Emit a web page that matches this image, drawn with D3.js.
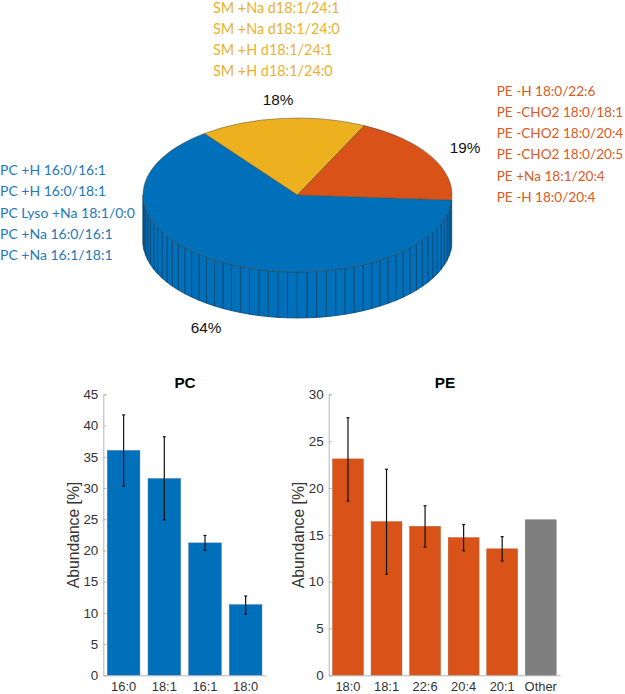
<!DOCTYPE html>
<html lang="en">
<head>
<meta charset="UTF-8" />
<title>Lipid abundance</title>
<script src="https://cdnjs.cloudflare.com/ajax/libs/d3/7.8.5/d3.min.js"></script>
<style>
  html, body { margin: 0; padding: 0; background: #fff; }
  svg { display: block; }
  .tick text, .bar-title, .ylab, .pct { font-family: "Liberation Sans", Arial, sans-serif; }
  .lab { font-family: Lato, "Open Sans", sans-serif; }
</style>
</head>
<body>
<svg id="chart" width="625" height="694"></svg>
<script>
  const pieNames = ['PC', 'SM', 'PE'];
  const pieShares = [63.7, 17.4, 18.9];
  const pieLabels = ['64%', '18%', '19%'];

  const smLabels = ['SM +Na d18:1/24:1', 'SM +Na d18:1/24:0', 'SM +H d18:1/24:1', 'SM +H d18:1/24:0'];
  const peLabels = ['PE -H 18:0/22:6', 'PE -CHO2 18:0/18:1', 'PE -CHO2 18:0/20:4', 'PE -CHO2 18:0/20:5', 'PE +Na 18:1/20:4', 'PE -H 18:0/20:4'];
  const pcLabels = ['PC +H 16:0/16:1', 'PC +H 16:0/18:1', 'PC Lyso +Na 18:1/0:0', 'PC +Na 16:0/16:1', 'PC +Na 16:1/18:1'];

  const pcCats = ['16:0', '18:1', '16:1', '18:0'];
  const pcVals = [36, 31.5, 21.2, 11.3];
  const pcLow = [30.3, 24.9, 20, 9.8];
  const pcHigh = [41.7, 38.2, 22.4, 12.7];

  const peCats = ['18:0', '18:1', '22:6', '20:4', '20:1', 'Other'];
  const peVals = [23.1, 16.4, 15.9, 14.7, 13.5, 16.6];
  const peLow = [18.6, 10.8, 13.7, 13.3, 12.2, null];
  const peHigh = [27.5, 22, 18.1, 16.1, 14.8, null];

  const BLUE = '#0070BA', ORANGE = '#D95319', YELLOW = '#EDB120', GREY = '#7F7F7F';
  const pieColors = { PC: BLUE, PE: ORANGE, SM: YELLOW };

  const svg = d3.select('#chart');

  // pie: flattened circle, the wall is cut in 3.6 degree facets like matlab pie3
  const cx = 297.5, cy = 195, rx = 154.5, ry = 77, depth = 46;
  const startDeg = 93.7; // d3 angle of the blue/orange edge on the right
  const pieGen = d3.pie().sort(null).value(d => d.v)
    .startAngle(startDeg * Math.PI / 180)
    .endAngle((startDeg + 360) * Math.PI / 180);
  const arcs = pieGen(pieNames.map((n, i) => ({ n, v: pieShares[i] })));
  const pt = a => [cx + rx * Math.sin(a), cy - ry * Math.cos(a)];

  const pcArc = arcs[0];
  const wall = svg.append('g');
  const step = 3.6 * Math.PI / 180;
  const wallAngles = d3.range(pcArc.startAngle, 1.5 * Math.PI, step);
  wallAngles.push(1.5 * Math.PI);
  d3.pairs(wallAngles).forEach(([a, b]) => {
    const [x0, y0] = pt(a), [x1, y1] = pt(b);
    wall.append('path')
      .attr('d', d3.line()([[x0, y0], [x1, y1], [x1, y1 + depth], [x0, y0 + depth]]) + 'Z')
      .attr('fill', BLUE)
      .attr('stroke', '#0a4575')
      .attr('stroke-width', 0.8);
  });

  const pieTop = svg.append('g').attr('transform', `translate(${cx},${cy}) scale(1,${ry / rx})`);
  const arcGen = d3.arc().innerRadius(0).outerRadius(rx);
  pieTop.selectAll('path').data(arcs).join('path')
    .attr('d', arcGen)
    .attr('fill', d => pieColors[d.data.n])
    .attr('stroke', '#4a4a3a')
    .attr('stroke-width', 0.5)
    .attr('vector-effect', 'non-scaling-stroke');

  // percent labels
  const pctPos = [[206, 333], [278, 105], [465, 153]];
  svg.selectAll('.pct').data(pieLabels).join('text')
    .attr('class', 'pct')
    .attr('x', (d, i) => pctPos[i][0])
    .attr('y', (d, i) => pctPos[i][1])
    .attr('text-anchor', 'middle')
    .attr('font-size', 15.3)
    .attr('fill', '#111')
    .text(d => d);

  function labelBlock(lines, x, y0, dy, color, size) {
    svg.append('g').selectAll('text').data(lines).join('text')
      .attr('class', 'lab')
      .attr('x', x)
      .attr('y', (d, i) => y0 + i * dy)
      .attr('font-size', size)
      .attr('fill', color)
      .text(d => d);
  }
  labelBlock(smLabels, 213, 12.5, 21.3, '#E9B12F', 14.4);
  labelBlock(peLabels, 496.7, 95.7, 21.2, '#DA5A22', 13.6);
  labelBlock(pcLabels, 0, 175, 21.3, '#1F77BC', 14);

  function barChart(opts) {
    const y = d3.scaleLinear().domain([0, opts.max]).range([675.3, 394.3]);
    const x = d3.scaleBand().domain(opts.cats).range([opts.left, opts.right]).paddingInner(0.2).paddingOuter(0.1);
    const g = svg.append('g');

    g.selectAll('rect').data(opts.vals).join('rect')
      .attr('x', (d, i) => x(opts.cats[i]))
      .attr('y', d => y(d))
      .attr('width', x.bandwidth())
      .attr('height', d => y(0) - y(d))
      .attr('fill', (d, i) => opts.cats[i] == 'Other' ? GREY : opts.color)
      .attr('stroke', (d, i) => opts.cats[i] == 'Other' ? '#6b6b6b' : opts.edge)
      .attr('stroke-width', 0.5);

    const yAxis = d3.axisLeft(y).tickValues(opts.ticks).tickSize(-3).tickPadding(5);
    const xAxis = d3.axisBottom(x).tickSize(0).tickPadding(7);
    const ax = g.append('g').attr('transform', `translate(${opts.left},0)`).call(yAxis);
    const bx = g.append('g').attr('transform', `translate(0,${y(0)})`).call(xAxis);
    [ax, bx].forEach(a => {
      a.selectAll('.domain, .tick line').attr('stroke', '#b5b5b5').attr('stroke-width', 1);
      a.selectAll('.tick text').attr('font-size', 13.4).attr('fill', '#333');
    });
    bx.selectAll('.tick text').attr('font-size', 12.9);

    // error bars
    const err = g.append('g').attr('stroke', '#111').attr('stroke-width', 1.2);
    opts.cats.forEach((c, i) => {
      if (opts.low[i] == null) return;
      const mx = x(c) + x.bandwidth() / 2;
      err.append('line').attr('x1', mx).attr('x2', mx).attr('y1', y(opts.low[i])).attr('y2', y(opts.high[i]));
      [opts.low[i], opts.high[i]].forEach(v => {
        err.append('line').attr('x1', mx - 1.5).attr('x2', mx + 1.5).attr('y1', y(v)).attr('y2', y(v));
      });
    });

    g.append('text').attr('class', 'bar-title')
      .attr('x', opts.titleX).attr('y', 388)
      .attr('text-anchor', 'middle').attr('font-size', 15.3).attr('font-weight', 'bold').attr('fill', '#000')
      .text(opts.title);
    g.append('text').attr('class', 'ylab')
      .attr('transform', `translate(${opts.labX},535) rotate(-90)`)
      .attr('text-anchor', 'middle').attr('font-size', 15.7).attr('fill', '#333')
      .text('Abundance [%]');
  }

  barChart({ title: 'PC', titleX: 185, labX: 79, left: 103.3, right: 266, max: 45, ticks: d3.range(0, 46, 5),
    cats: pcCats, vals: pcVals, low: pcLow, high: pcHigh, color: BLUE, edge: '#2a6ea5' });
  barChart({ title: 'PE', titleX: 445, labX: 304, left: 328.7, right: 560, max: 30, ticks: d3.range(0, 31, 5),
    cats: peCats, vals: peVals, low: peLow, high: peHigh, color: ORANGE, edge: '#b5562a' });
</script>
</body>
</html>
